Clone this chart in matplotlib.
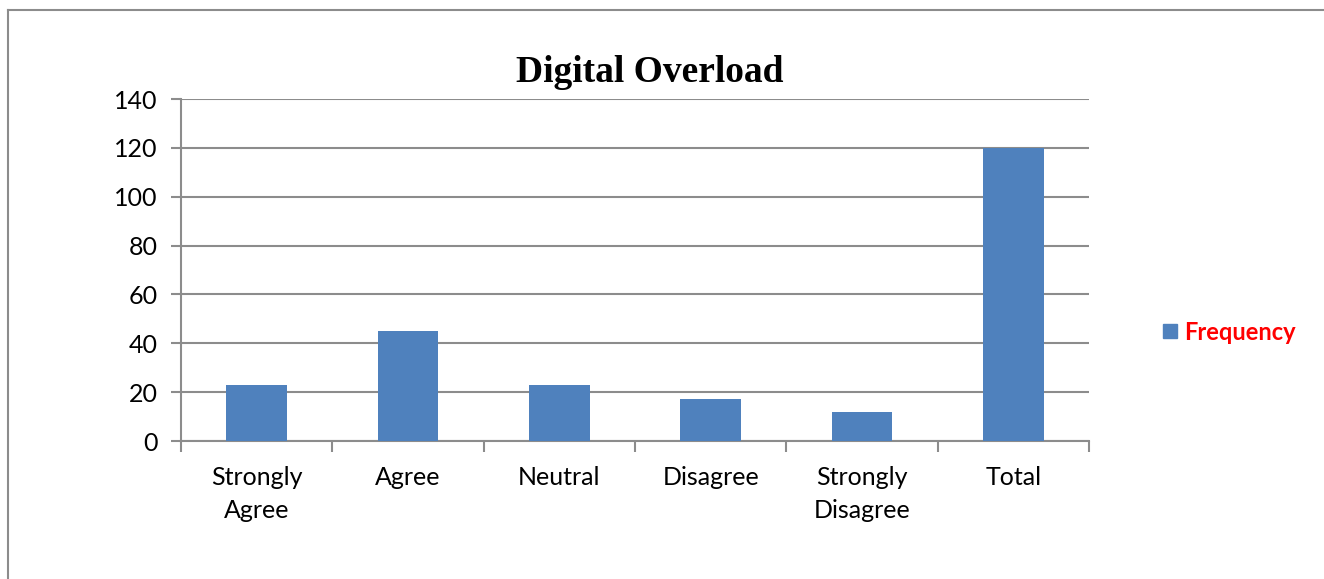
import matplotlib.pyplot as plt
from matplotlib.lines import Line2D
from matplotlib.patches import Rectangle
import numpy as np

# response counts
categories = ["Strongly\nAgree", "Agree", "Neutral", "Disagree", "Strongly\nDisagree", "Total"]
frequency = [23, 45, 23, 17, 12, 120]

bar_color = "#4F81BD"
grid_color = "#8C8C8C"

fig = plt.figure(figsize=(13.24, 5.79), dpi=100)
ax = fig.add_axes([0.1367, 0.2383, 0.6858, 0.5907])

x = np.arange(len(categories))
ax.bar(x, frequency, width=0.4, color=bar_color, zorder=3)

ax.set_xlim(-0.5, len(categories) - 0.5)
ax.set_ylim(0, 140)
ax.set_yticks(range(0, 141, 20))
ax.yaxis.grid(True, color=grid_color, linewidth=1.5)
ax.set_axisbelow(True)

ax.set_xticks(x)
ax.set_xticklabels(categories)
ax.set_xticks(np.arange(-0.5, len(categories), 1), minor=True)
ax.tick_params(axis="x", which="major", length=0, pad=18)
ax.tick_params(axis="x", which="minor", length=8, width=1.5, color=grid_color)
ax.tick_params(axis="y", length=7, width=1.5, color=grid_color, pad=10)
for lbl in ax.get_xticklabels() + ax.get_yticklabels():
    lbl.set_fontfamily("Lato")
    lbl.set_fontsize(18)
    lbl.set_linespacing(1.55)

for s in ["top", "right"]:
    ax.spines[s].set_visible(False)
for s in ["left", "bottom"]:
    ax.spines[s].set_color(grid_color)
    ax.spines[s].set_linewidth(1.5)

fig.text(0.491, 0.875, "Digital Overload", ha="center", va="center",
         fontfamily="Liberation Serif", fontweight="bold", fontsize=27)

# legend
fig.patches.append(Rectangle((1163 / 1324, 1 - 338 / 579), 14 / 1324, 14 / 579,
                             transform=fig.transFigure, color=bar_color))
fig.text(1184 / 1324, 1 - 333 / 579, "Frequency", ha="left", va="center",
         color="red", fontweight="bold", fontfamily="Lato", fontsize=17)

# chart area border
fig.add_artist(Line2D([8 / 1324, 1], [1 - 10 / 579, 1 - 10 / 579], color=grid_color, linewidth=1.5))
fig.add_artist(Line2D([8 / 1324, 8 / 1324], [0, 1 - 10 / 579], color=grid_color, linewidth=1.5))

fig.savefig("out.png", dpi=100)
